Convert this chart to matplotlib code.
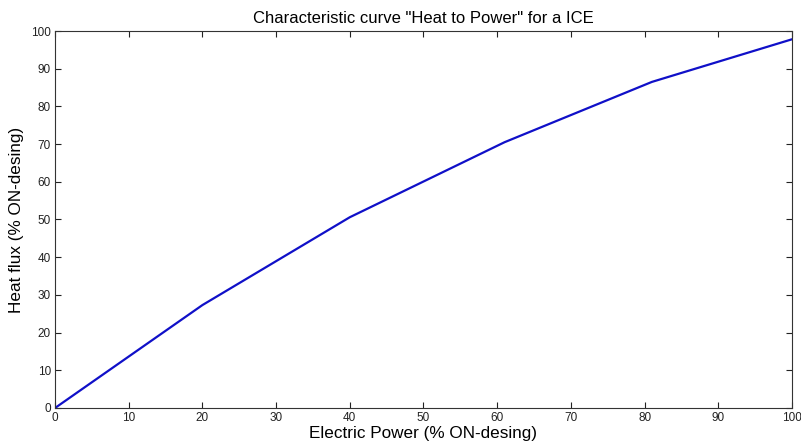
import numpy as np
import matplotlib
matplotlib.use("Agg")
import matplotlib.pyplot as plt

plt.rcParams['font.family'] = ['Liberation Sans', 'DejaVu Sans']

# ---------- DATA ----------
power = [0, 20, 40, 61, 81, 100]
heat = [0, 27.3, 50.6, 70.5, 86.5, 97.8]
xticks = list(range(0, 101, 10))
yticks = list(range(0, 101, 10))

# ---------- PLOT ----------
fig = plt.figure(figsize=(8.01, 4.48), dpi=100)
ax = fig.add_axes([0.0687, 0.0893, 0.920, 0.8415])

ax.plot(power, heat, color="#1010c8", lw=1.6)

ax.set_xlim(0, 100)
ax.set_ylim(0, 100)
ax.set_xticks(xticks)
ax.set_yticks(yticks)
ax.tick_params(direction="in", top=True, right=True, length=4, width=0.8,
               labelsize=8.5, colors="#222222", pad=3)
for s in ax.spines.values():
    s.set_linewidth(0.8)
    s.set_color("#333333")

ax.set_title('Characteristic curve "Heat to Power" for a ICE', fontsize=12, pad=6)
ax.set_xlabel("Electric Power (% ON-desing)", fontsize=12.3, labelpad=1)
ax.set_ylabel("Heat flux (% ON-desing)", fontsize=12.3, labelpad=5)

fig.savefig("out.png", dpi=100)
